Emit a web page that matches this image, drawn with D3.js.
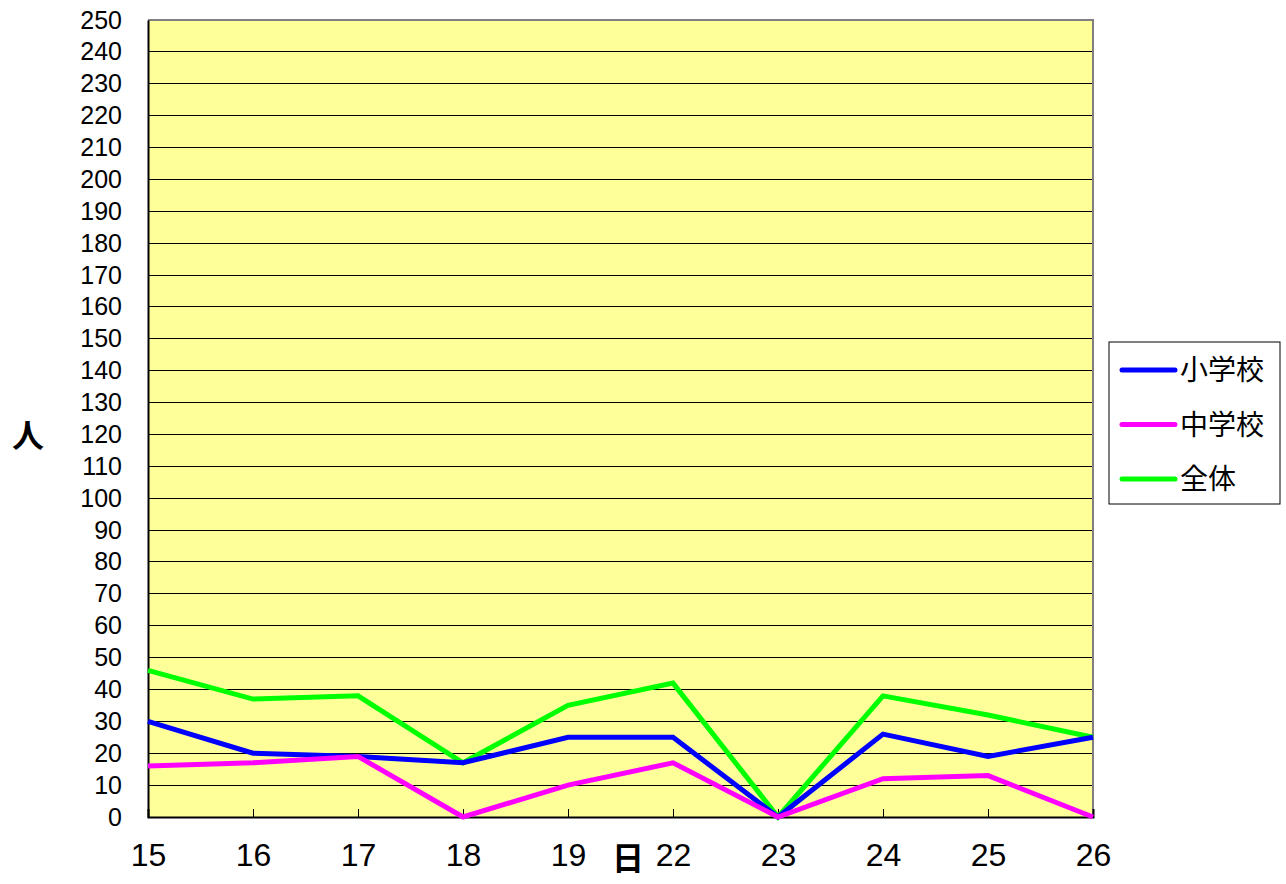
<!DOCTYPE html>
<html><head><meta charset="utf-8">
<script src="https://cdn.jsdelivr.net/npm/d3@7"></script>
<style>body{margin:0;background:#fff}</style>
</head><body>
<svg id="c" width="1286" height="884"></svg>
<script>
const days = ["15","16","17","18","19","22","23","24","25","26"];
const elementary = [30,20,19,17,25,25,0,26,19,25];
const junior = [16,17,19,0,10,17,0,12,13,0];
const total = [46,37,38,17,35,42,0,38,32,25];
const seriesNames = ["小学校","中学校","全体"];
const seriesColors = ["#0000ff","#ff00ff","#00ff00"];
const yTicks = d3.range(0,251,10);

const svg = d3.select("#c");
const L=148,R=1093,T=20,B=817;
const x = d3.scalePoint().domain(days).range([L,R]).padding(0);
const y = d3.scaleLinear().domain([0,250]).range([B,T]);
const font = "'Noto Sans CJK JP', sans-serif";
const numFont = "'Liberation Sans', Arial, sans-serif";

svg.append("rect").attr("x",L).attr("y",T).attr("width",R-L).attr("height",B-T).attr("fill","#ffff99");
// grid
svg.append("g").selectAll("line").data(yTicks.filter(d=>d>0)).join("line")
  .attr("x1",L).attr("x2",R).attr("y1",d=>y(d)).attr("y2",d=>y(d))
  .attr("stroke","#000").attr("stroke-width",1).attr("shape-rendering","crispEdges");
// border top/right gray
svg.append("path").attr("d",`M${L},${T}H${R}V${B}`).attr("fill","none").attr("stroke","#808080").attr("stroke-width",2);

// y axis
const ya = svg.append("g").attr("transform",`translate(${L},0)`)
  .call(d3.axisLeft(y).tickValues(yTicks).tickSize(0).tickPadding(26));
ya.select(".domain").attr("stroke","#000").attr("stroke-width",2);
ya.selectAll("text").attr("font-family",numFont).attr("font-size",25).attr("fill","#000");

// x axis
const xa = svg.append("g").attr("transform",`translate(0,${B})`)
  .call(d3.axisBottom(x).tickSize(-8).tickPadding(26));
xa.select(".domain").attr("stroke","#000").attr("stroke-width",2);
xa.selectAll(".tick line").attr("stroke","#000");
xa.selectAll("text").attr("font-family",numFont).attr("font-size",32).attr("fill","#000").attr("dy","0.72em");

// lines
const data = [elementary, junior, total];
const line = d3.line().x((d,i)=>x(days[i])).y(d=>y(d));
[2,0,1].forEach(k=>{
  svg.append("path").datum(data[k]).attr("d",line).attr("fill","none")
    .attr("stroke",seriesColors[k]).attr("stroke-width",5).attr("stroke-linejoin","miter");
});

// axis titles
svg.append("text").attr("x",28).attr("y",447).attr("text-anchor","middle")
  .attr("font-family",font).attr("font-size",32).attr("font-weight","bold").text("人");
svg.append("text").attr("x",628).attr("y",870).attr("text-anchor","middle")
  .attr("font-family",font).attr("font-size",32).attr("font-weight","bold").text("日");

// legend
const lg = svg.append("g");
lg.append("rect").attr("x",1109).attr("y",342).attr("width",171).attr("height",162)
  .attr("fill","#fff").attr("stroke","#000").attr("stroke-width",1);
seriesNames.forEach((n,i)=>{
  const yy = 370 + i*54.5;
  lg.append("line").attr("x1",1122).attr("x2",1175).attr("y1",yy).attr("y2",yy)
    .attr("stroke",seriesColors[i]).attr("stroke-width",5).attr("stroke-linecap","round");
  lg.append("text").attr("x",1180).attr("y",yy).attr("dy","0.36em")
    .attr("font-family",font).attr("font-size",28).text(n);
});
</script>
</body></html>
